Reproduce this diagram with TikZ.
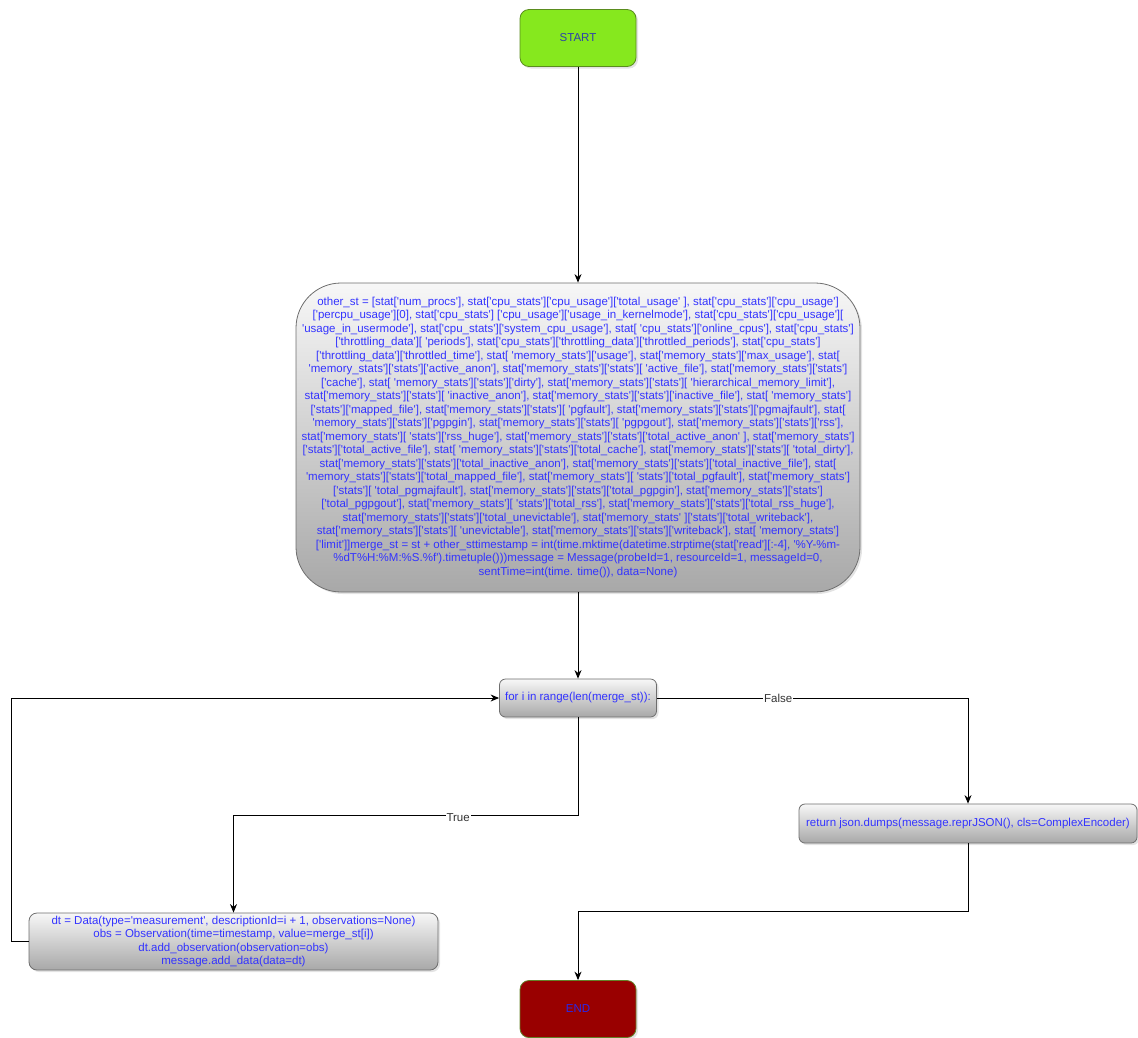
\documentclass[tikz,border=0pt]{standalone}
\usepackage{fontspec}
\newfontfamily\codefont[Ligatures=TeXOff]{Liberation Sans}
\usetikzlibrary{arrows.meta,shadows}

\definecolor{codeblue}{RGB}{51,51,255}
\definecolor{boxline}{RGB}{110,110,110}
\definecolor{boxtop}{RGB}{247,247,247}
\definecolor{boxbot}{RGB}{168,168,168}
\definecolor{startfill}{RGB}{134,232,30}
\definecolor{startline}{RGB}{90,140,30}
\definecolor{starttext}{RGB}{45,65,170}
\definecolor{endfill}{RGB}{153,0,0}
\definecolor{endline}{RGB}{100,130,40}
\definecolor{endtext}{RGB}{40,40,235}
\definecolor{labgray}{RGB}{51,51,51}

\begin{document}
\begin{tikzpicture}[x=1pt,y=-1pt,
  codefont/.style={font=\codefont\fontsize{11.5}{13.5}\selectfont},
  shade/.style={drop shadow={opacity=0.22,shadow xshift=2pt,shadow yshift=-2pt}},
  box/.style={codefont, shade, draw=boxline, line width=0.8pt,
    top color=boxtop, bottom color=boxbot, inner sep=0pt,
    text=codeblue, align=center},
  terminal/.style={codefont, shade, line width=0.8pt, inner sep=0pt,
    minimum width=116pt, minimum height=57pt, rounded corners=9pt},
  flow/.style={draw=black, line width=0.9pt,
    -{Stealth[length=8.5pt,width=7pt]}},
  lab/.style={codefont, fill=white, inner sep=1pt, text=labgray}]

\useasboundingbox (0,0) rectangle (1138,1037);

% terminals
\node[terminal, draw=startline, fill=startfill, text=starttext] (start) at (578,38) {START};
\node[terminal, draw=endline, fill=endfill, text=endtext] (end) at (578,1009) {END};

% collected statistics block
\node[box, minimum width=564pt, minimum height=309pt, rounded corners=45pt] (main) at (578,437.5) {%
other\_st = [stat['num\_procs'], stat['cpu\_stats']['cpu\_usage']['total\_usage' ], stat['cpu\_stats']['cpu\_usage']\\{}%
['percpu\_usage'][0], stat['cpu\_stats'] ['cpu\_usage']['usage\_in\_kernelmode'], stat['cpu\_stats']['cpu\_usage'][\\{}%
'usage\_in\_usermode'], stat['cpu\_stats']['system\_cpu\_usage'], stat[ 'cpu\_stats']['online\_cpus'], stat['cpu\_stats']\\{}%
['throttling\_data'][ 'periods'], stat['cpu\_stats']['throttling\_data']['throttled\_periods'], stat['cpu\_stats']\\{}%
['throttling\_data']['throttled\_time'], stat[ 'memory\_stats']['usage'], stat['memory\_stats']['max\_usage'], stat[\\{}%
'memory\_stats']['stats']['active\_anon'], stat['memory\_stats']['stats'][ 'active\_file'], stat['memory\_stats']['stats']\\{}%
['cache'], stat[ 'memory\_stats']['stats']['dirty'], stat['memory\_stats']['stats'][ 'hierarchical\_memory\_limit'],\\{}%
stat['memory\_stats']['stats'][ 'inactive\_anon'], stat['memory\_stats']['stats']['inactive\_file'], stat[ 'memory\_stats']\\{}%
['stats']['mapped\_file'], stat['memory\_stats']['stats'][ 'pgfault'], stat['memory\_stats']['stats']['pgmajfault'], stat[\\{}%
'memory\_stats']['stats']['pgpgin'], stat['memory\_stats']['stats'][ 'pgpgout'], stat['memory\_stats']['stats']['rss'],\\{}%
stat['memory\_stats'][ 'stats']['rss\_huge'], stat['memory\_stats']['stats']['total\_active\_anon' ], stat['memory\_stats']\\{}%
['stats']['total\_active\_file'], stat[ 'memory\_stats']['stats']['total\_cache'], stat['memory\_stats']['stats'][ 'total\_dirty'],\\{}%
stat['memory\_stats']['stats']['total\_inactive\_anon'], stat['memory\_stats']['stats']['total\_inactive\_file'], stat[\\{}%
'memory\_stats']['stats']['total\_mapped\_file'], stat['memory\_stats'][ 'stats']['total\_pgfault'], stat['memory\_stats']\\{}%
['stats'][ 'total\_pgmajfault'], stat['memory\_stats']['stats']['total\_pgpgin'], stat['memory\_stats']['stats']\\{}%
['total\_pgpgout'], stat['memory\_stats'][ 'stats']['total\_rss'], stat['memory\_stats']['stats']['total\_rss\_huge'],\\{}%
stat['memory\_stats']['stats']['total\_unevictable'], stat['memory\_stats' ]['stats']['total\_writeback'],\\{}%
stat['memory\_stats']['stats'][ 'unevictable'], stat['memory\_stats']['stats']['writeback'], stat[ 'memory\_stats']\\{}%
['limit']]merge\_st = st + other\_sttimestamp = int(time.mktime(datetime.strptime(stat['read'][:-4], '\%Y-\%m-\\{}%
\%dT\%H:\%M:\%S.\%f').timetuple()))message = Message(probeId=1, resourceId=1, messageId=0,\\{}%
sentTime=int(time. time()), data=None)};

% loop header
\node[box, minimum width=157pt, minimum height=38pt, rounded corners=6pt] (loop) at (578,698) {for i in range(len(merge\_st)):};

% loop body
\node[box, minimum width=409pt, minimum height=57pt, rounded corners=8pt] (body) at (233.5,941.5) {%
dt = Data(type='measurement', descriptionId=i + 1, observations=None)\\{}%
obs = Observation(time=timestamp, value=merge\_st[i])\\{}%
dt.add\_observation(observation=obs)\\{}%
message.add\_data(data=dt)};

% result
\node[box, minimum width=338pt, minimum height=39pt, rounded corners=6pt] (ret) at (968,823.5) {return json.dumps(message.reprJSON(), cls=ComplexEncoder)};

% bend points
\coordinate (tbend) at (578,815);
\coordinate (lbend) at (11,941.5);
\coordinate (rbend) at (968,911);

% connectors
\draw[flow] (start) -- (main);
\draw[flow] (main.south) -- (loop.north);
\draw[flow] (loop.east) -| node[lab, pos=0.195] (lfalse) {False} (ret.north);
\draw[flow] (loop.south) -- (tbend) -| node[lab, pos=0.174, yshift=-3pt] (ltrue) {True} (body.north);
\draw[flow] (body.west) -- (lbend) |- (loop.west);
\draw[flow] (ret.south) -- (rbend) -| (end.north);

\end{tikzpicture}
\end{document}
